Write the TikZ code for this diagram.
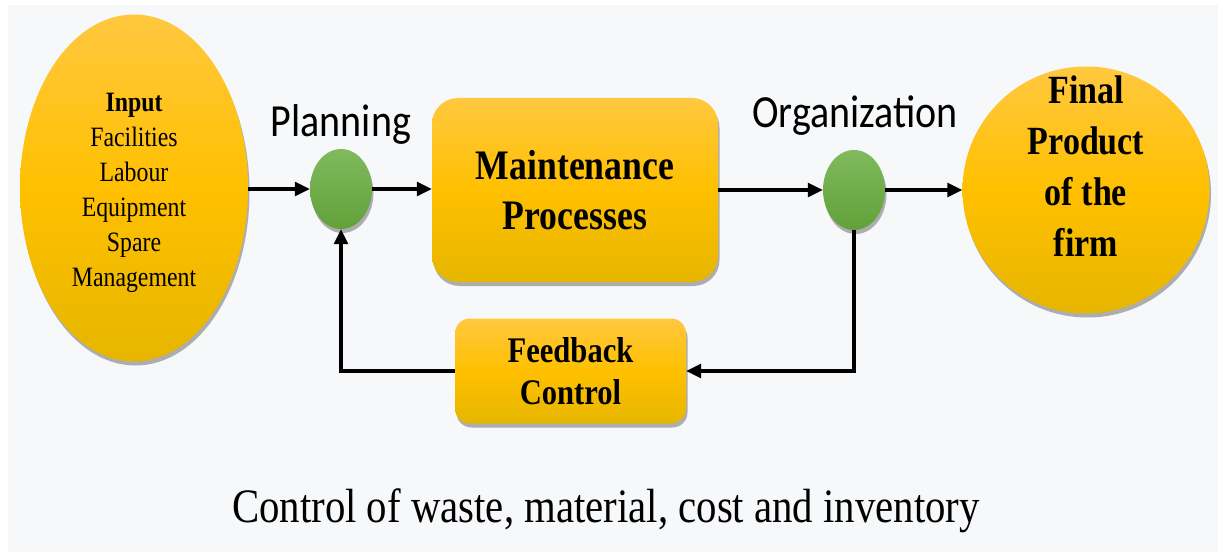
\documentclass[tikz,border=0pt]{standalone}
\usepackage{fontspec}
\setmainfont{Liberation Serif}[FakeStretch=0.85]
\newfontfamily\calfont{Carlito}[FakeStretch=0.87]
\usetikzlibrary{shapes.geometric,arrows.meta,shadows}
\definecolor{bg}{HTML}{F7F8FA}
\definecolor{yt}{HTML}{FFC83F}
\definecolor{ym}{HTML}{FFC000}
\definecolor{yb}{HTML}{E6B600}
\definecolor{gt}{HTML}{80BA5C}
\definecolor{gb}{HTML}{62A13A}
\tikzset{
  shad/.style={drop shadow={shadow xshift=1.5pt, shadow yshift=-4pt, opacity=0.3, fill=black}},
  yel/.style={top color=yt, bottom color=yb, middle color=ym, draw=none, shad},
  grn/.style={ellipse, top color=gt, bottom color=gb, draw=none, shad, minimum width=62pt, minimum height=80pt, inner sep=0pt},
  arr/.style={line width=3.1pt, -{Triangle[length=15pt,width=14pt]}},
  lbl/.style={font=\calfont\fontsize{46}{50}\selectfont, anchor=base},
}
\begin{document}
\begin{tikzpicture}[x=1pt,y=-1pt]
\useasboundingbox (0,0) rectangle (1223,556);
\fill[white] (0,0) rectangle (1223,556);
\fill[bg] (8,5) rectangle (1218,552);

% shapes
\node[yel, ellipse, inner sep=0pt, minimum width=228pt, minimum height=347pt] (input) at (134,188) {};
\node[align=center, font=\fontsize{28}{35}\selectfont] (intext) at (134,193)
  {\textbf{Input}\\Facilities\\Labour\\Equipment\\Spare\\Management};

\node[grn] (plan) at (341,189) {};
\node[lbl] (planlbl) at (341,137) {Planning};

\node[yel, rectangle, rounded corners=26pt, minimum width=286pt, minimum height=184pt, align=center,
      font=\bfseries\fontsize{42}{50}\selectfont] (maint) at (575,190) {Maintenance\\Processes};

\node[grn] (org) at (854,190) {};
\node[lbl] (orglbl) at (855,128) {Organization};

\node[yel, circle, inner sep=0pt, minimum size=247pt] (final) at (1086,190) {};
\node[align=center, font=\bfseries\fontsize{40}{51}\selectfont] (fintext) at (1086,166)
  {Final\\Product\\of the\\firm};

\node[yel, rectangle, rounded corners=15pt, minimum width=231pt, minimum height=105pt, align=center,
      font=\bfseries\fontsize{36}{42}\selectfont] (fb) at (570.5,371) {Feedback\\Control};

\node[font=\fontsize{48}{52}\selectfont, anchor=base] (bottom) at (606,522)
  {Control of waste, material, cost and inventory};

% connectors
\draw[arr] (input.east |- plan.west) -- (plan.west);
\draw[arr] (plan.east) -- (plan.east -| maint.west);
\draw[arr] (maint.east |- org.west) -- (org.west);
\draw[arr] (org.east) -- (final.west);
\draw[arr] (org.south) |- (fb.east);
\draw[arr] (fb.west) -| (plan.south);
\end{tikzpicture}
\end{document}
